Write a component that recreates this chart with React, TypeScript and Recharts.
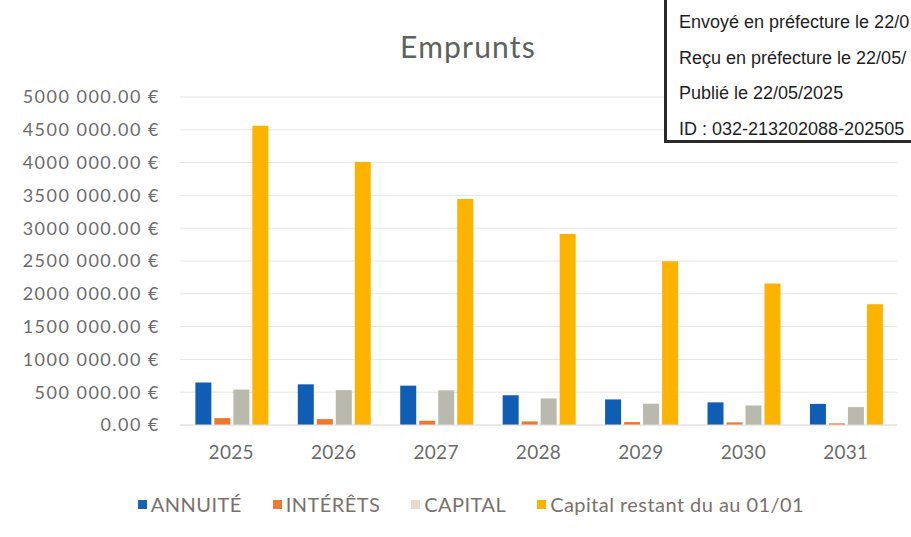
import React from "react";
import { BarChart, Bar, XAxis, YAxis, CartesianGrid, Legend } from "recharts";

const years = ["2025", "2026", "2027", "2028", "2029", "2030", "2031"];
const annuite = [648000, 620000, 600000, 455000, 390000, 345000, 322000];
const interets = [105000, 90000, 65000, 55000, 45000, 40000, 25000];
const capital = [540000, 532000, 528000, 405000, 325000, 298000, 272000];
const restant = [4560000, 4010000, 3445000, 2910000, 2497000, 2156000, 1840000];
const yTicks = [0, 500000, 1000000, 1500000, 2000000, 2500000, 3000000, 3500000, 4000000, 4500000, 5000000];
const stampLines = [
  "Envoyé en préfecture le 22/0",
  "Reçu en préfecture le 22/05/",
  "Publié le 22/05/2025",
  "ID : 032-213202088-202505",
];

const series = [
  { key: "annuite", name: "ANNUITÉ", color: "#0F5EB3", icon: "#1A62B0" },
  { key: "interets", name: "INTÉRÊTS", color: "#EC7A2E", icon: "#EE7B33" },
  { key: "capital", name: "CAPITAL", color: "#B9B9AD", icon: "#E6DCCD" },
  { key: "restant", name: "Capital restant du au 01/01", color: "#FDB300", icon: "#FDB300" },
];

const data = years.map((y, i) => ({
  year: y,
  annuite: annuite[i],
  interets: interets[i],
  capital: capital[i],
  restant: restant[i],
}));

const FONT = "Lato, 'Open Sans', sans-serif";

const fmt = (v: number) => {
  if (v === 0) return "0.00 €";
  const k = Math.floor(v / 1000);
  const r = String(v % 1000).padStart(3, "0");
  return `${k} ${r}.00 €`;
};

const renderLegend = () => (
  <div
    style={{
      display: "flex",
      justifyContent: "center",
      gap: 31,
      paddingLeft: 45,
      fontFamily: FONT,
      fontSize: 20,
      letterSpacing: 0.45,
      color: "#7a716b",
      lineHeight: "26px",
      marginTop: 1,
    }}
  >
    {series.map((s) => (
      <div key={s.key} style={{ display: "flex", alignItems: "center" }}>
        <span
          style={{
            display: "inline-block",
            width: 9,
            height: 9,
            background: s.icon,
            marginRight: 4,
          }}
        />
        <span>{s.name}</span>
      </div>
    ))}
  </div>
);

export default function App() {
  return (
    <div style={{ position: "absolute", left: 0, top: 0, width: 911, height: 537, background: "#fff", overflow: "hidden" }}>
      <div
        style={{
          position: "absolute",
          left: 0,
          top: 28,
          width: 936,
          textAlign: "center",
          fontFamily: FONT,
          fontSize: 30,
          letterSpacing: 1.2,
          color: "#5c625e",
        }}
      >
        Emprunts
      </div>
      <BarChart
        width={911}
        height={537}
        data={data}
        margin={{ top: 97, right: 14, left: 0, bottom: 19 }}
        barCategoryGap="15%"
        barGap={3}
      >
        <CartesianGrid vertical={false} stroke="#E6E6E6" />
        <XAxis
          dataKey="year"
          axisLine={{ stroke: "#E0E0E0" }}
          tickLine={false}
          tickSize={0}
          tickMargin={21}
          height={65}
          tick={{ fontFamily: FONT, fontSize: 19, fill: "#6b6b6b", letterSpacing: 0.3 }}
        />
        <YAxis
          domain={[0, 5000000]}
          ticks={yTicks}
          interval={0}
          tickFormatter={fmt}
          axisLine={false}
          tickLine={false}
          tickSize={0}
          tickMargin={20}
          width={180}
          tick={{ fontFamily: FONT, fontSize: 18, fill: "#6b6b6b", letterSpacing: 1.5 }}
        />
        <Legend verticalAlign="bottom" height={28} content={renderLegend} />
        {series.map((s) => (
          <Bar key={s.key} dataKey={s.key} name={s.name} fill={s.color} isAnimationActive={false} />
        ))}
      </BarChart>
      <div
        style={{
          position: "absolute",
          left: 664,
          top: -3,
          width: 280,
          height: 146,
          border: "3px solid #2a2a2a",
          background: "#fff",
          boxSizing: "border-box",
          overflow: "hidden",
          fontFamily: "'Liberation Sans', Arial, sans-serif",
          fontSize: 18,
          color: "#1e1e1e",
        }}
      >
        {stampLines.map((t, i) => (
          <div
            key={i}
            style={{ position: "absolute", left: 12, top: 12 + i * 35.7, whiteSpace: "nowrap" }}
          >
            {t}
          </div>
        ))}
      </div>
    </div>
  );
}
